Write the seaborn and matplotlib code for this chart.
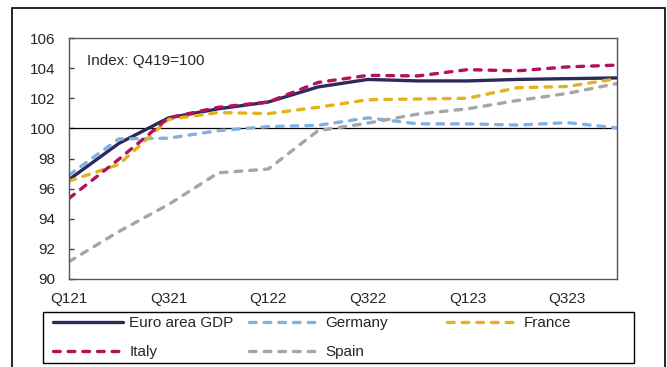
import numpy as np
import pandas as pd
import matplotlib
matplotlib.use("Agg")
import matplotlib.pyplot as plt
from matplotlib.patches import Rectangle
import seaborn as sns

quarters = ["Q121", "Q221", "Q321", "Q421", "Q122", "Q222",
            "Q322", "Q422", "Q123", "Q223", "Q323", "Q423"]
tick_labels = ["Q121", "Q321", "Q122", "Q322", "Q123", "Q323"]
yticks = [90, 92, 94, 96, 98, 100, 102, 104, 106]

euro = [96.6, 99.0, 100.7, 101.3, 101.75, 102.75, 103.25, 103.15, 103.15, 103.25, 103.3, 103.35]
germany = [96.9, 99.3, 99.35, 99.85, 100.12, 100.2, 100.7, 100.3, 100.3, 100.22, 100.38, 100.03]
france = [96.5, 97.6, 100.6, 101.05, 100.98, 101.4, 101.9, 101.95, 102.0, 102.7, 102.78, 103.3]
italy = [95.35, 97.95, 100.7, 101.4, 101.75, 103.05, 103.52, 103.48, 103.9, 103.82, 104.08, 104.2]
spain = [91.15, 93.15, 94.95, 97.05, 97.3, 99.85, 100.35, 100.95, 101.3, 101.85, 102.32, 102.98]

series = [
    ("Euro area GDP", euro, "#2B2A5C", "solid"),
    ("Germany", germany, "#7FB2E3", "dash"),
    ("France", france, "#E1B31E", "dash"),
    ("Italy", italy, "#B5105C", "dash"),
    ("Spain", spain, "#A6A6A6", "dash"),
]

sns.set_style("white")
plt.rcParams["font.family"] = ["Liberation Sans", "DejaVu Sans"]

fig = plt.figure(figsize=(6.67, 3.67), dpi=100)
ax = fig.add_axes([69 / 667, 1 - 279 / 367, 548 / 667, 241 / 367])

x = np.arange(len(quarters))
ax.axhline(100, color="black", lw=0.9, zorder=1)

lines = {}
for name, vals, col, sty in series:
    df = pd.DataFrame({"q": x, "v": vals})
    kw = dict(color=col, lw=2.4, ax=ax, label=name)
    if sty == "dash":
        kw.update(linestyle=(0, (2.0, 2.4)), dash_capstyle="round")
    sns.lineplot(data=df, x="q", y="v", **kw)
    lines[name] = ax.lines[-1]

if ax.get_legend() is not None:
    ax.get_legend().remove()

ax.set_xlim(0, 11)
ax.set_ylim(90, 106)
ax.set_yticks(yticks)
ax.set_yticklabels([str(t) for t in yticks])
ax.set_xticks(x[::2])
ax.set_xticklabels(tick_labels)
ax.set_xlabel("")
ax.set_ylabel("")
ax.tick_params(axis="y", direction="in", length=3.5, width=1, color="#404040",
               pad=10, labelsize=11, left=True)
ax.tick_params(axis="x", length=0, pad=9, labelsize=11)
for side in ["left", "bottom", "right", "top"]:
    ax.spines[side].set_visible(True)
    ax.spines[side].set_color("#555555")
    ax.spines[side].set_linewidth(1.0)

ax.text(0.033, 0.905, "Index: Q419=100", transform=ax.transAxes,
        fontsize=11, va="center", ha="left")

# legend: three columns positioned like the original
cols = [(53, ["Euro area GDP", "Italy"]),
        (249, ["Germany", "Spain"]),
        (447, ["France"])]
for px, names in cols:
    fig.legend(handles=[lines[n] for n in names], labels=names,
               loc="upper left", bbox_to_anchor=(px / 667, 1 - 316 / 367),
               frameon=False, borderpad=0, borderaxespad=0,
               handlelength=4.6, handletextpad=0.4, labelspacing=1.0,
               fontsize=11)

fig.patches.append(Rectangle((43 / 667, 1 - 363 / 367), 591 / 667, 51 / 367,
                             transform=fig.transFigure, fill=False,
                             ec="black", lw=1.0))
fig.patches.append(Rectangle((11.5 / 667, -0.05), 653.5 / 667, 0.05 + 1 - 8 / 367,
                             transform=fig.transFigure, fill=False,
                             ec="black", lw=1.2, clip_on=False))

fig.savefig("out.png", dpi=100)
